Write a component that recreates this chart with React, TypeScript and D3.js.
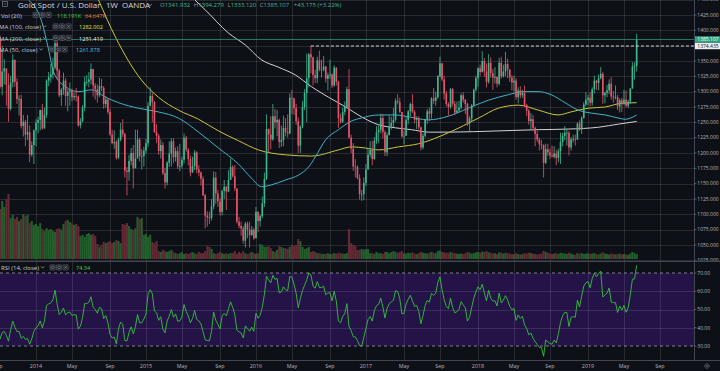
import React, { useEffect, useRef } from 'react';
import * as d3 from 'd3';

// weekly bars (OANDA XAU/USD), first bar = week of 2013-03-31, the first ones sit left of the view
const firstWeek = '2013-03-31';
const firstOpen = 1598;

const closes = [
  // 2013
  1581, 1476, 1405, 1462, 1469, 1437, 1364, 1386, 1392, 1383, 1387, 1297, 1234,
  1223, 1277, 1296, 1323, 1310, 1313, 1377, 1396, 1395, 1386, 1308, 1333, 1338,
  1311, 1272, 1315, 1352, 1316, 1288, 1288, 1244, 1251, 1230, 1234, 1197, 1213,
  // 2014
  1237, 1249, 1254, 1270, 1240, 1262, 1318, 1324, 1328, 1339, 1379, 1334, 1294,
  1303, 1318, 1293, 1300, 1302, 1291, 1293, 1292, 1245, 1252, 1274, 1316, 1316,
  1320, 1337, 1310, 1304, 1294, 1309, 1306, 1280, 1287, 1267, 1230, 1216, 1218,
  1192, 1222, 1238, 1231, 1171, 1169, 1187, 1200, 1175, 1191, 1222, 1195, 1195,
  // 2015
  1204, 1216, 1277, 1293, 1283, 1234, 1228, 1203, 1213, 1167, 1152, 1184, 1199,
  1219, 1193, 1203, 1178, 1179, 1189, 1225, 1205, 1190, 1168, 1179, 1201, 1173,
  1168, 1158, 1131, 1098, 1095, 1094, 1113, 1160, 1134, 1121, 1104, 1138, 1145,
  1137, 1156, 1177, 1162, 1142, 1088, 1081, 1077, 1057, 1085, 1075, 1066, 1075,
  // 2016
  1061, 1104, 1089, 1097, 1118, 1158, 1239, 1230, 1222, 1260, 1250, 1254, 1218,
  1221, 1241, 1234, 1232, 1290, 1289, 1273, 1252, 1212, 1243, 1275, 1298, 1322,
  1361, 1356, 1327, 1322, 1351, 1336, 1336, 1341, 1321, 1327, 1328, 1310, 1339, 1316,
  1257, 1251, 1267, 1275, 1304, 1225, 1207, 1178, 1177, 1159, 1133, 1133, 1151,
  // 2017
  1173, 1197, 1205, 1190, 1220, 1234, 1238, 1257, 1234, 1201, 1229, 1243, 1249,
  1254, 1285, 1283, 1267, 1227, 1228, 1254, 1268, 1280, 1267, 1254, 1256, 1242,
  1209, 1228, 1254, 1268, 1264, 1289, 1285, 1291, 1325, 1346, 1320, 1297, 1280,
  1275, 1304, 1280, 1266, 1269, 1274, 1294, 1287, 1280, 1248, 1256, 1278, 1303,
  // 2018
  1322, 1338, 1332, 1350, 1333, 1316, 1347, 1330, 1323, 1324, 1313, 1347, 1325,
  1333, 1345, 1336, 1323, 1315, 1318, 1291, 1302, 1294, 1298, 1278, 1269, 1252,
  1255, 1241, 1231, 1222, 1214, 1213, 1184, 1206, 1201, 1196, 1194, 1199, 1192,
  1203, 1218, 1228, 1233, 1233, 1209, 1222, 1223, 1222, 1248, 1238, 1257, 1279,
  // 2019
  1287, 1290, 1282, 1304, 1318, 1314, 1322, 1329, 1294, 1298, 1302, 1313, 1292,
  1291, 1291, 1276, 1286, 1280, 1287, 1277, 1284, 1305, 1341, 1341.9, 1385.1,
];

const highs = [
  1605, 1587, 1497, 1476, 1488, 1487, 1446, 1417, 1418, 1424, 1395, 1398, 1300,
  1267, 1297, 1299, 1349, 1347, 1324, 1380, 1401, 1434, 1423, 1392, 1375, 1353,
  1338, 1330, 1326, 1361, 1352, 1322, 1294, 1295, 1262, 1254, 1262, 1245, 1219,
  1238, 1255, 1259, 1271, 1280, 1274, 1320, 1332, 1345, 1355, 1392, 1386, 1337,
  1306, 1331, 1322, 1304, 1315, 1305, 1299, 1306, 1294, 1257, 1278, 1325, 1327,
  1332, 1346, 1337, 1314, 1312, 1323, 1321, 1309, 1293, 1289, 1272, 1238, 1237,
  1221, 1225, 1249, 1255, 1233, 1177, 1197, 1208, 1213, 1238, 1238, 1225, 1206,
  1210, 1223, 1283, 1307, 1298, 1285, 1247, 1231, 1222, 1218, 1176, 1187, 1219,
  1224, 1224, 1209, 1211, 1215, 1194, 1232, 1228, 1208, 1196, 1194, 1205, 1203,
  1180, 1170, 1162, 1133, 1105, 1104, 1125, 1170, 1169, 1140, 1126, 1140, 1156,
  1146, 1172, 1191, 1180, 1180, 1143, 1096, 1088, 1081, 1088, 1088, 1088, 1081,
  1078, 1112, 1105, 1100, 1129, 1168, 1263, 1240, 1260, 1280, 1272, 1270, 1256,
  1245, 1261, 1257, 1263, 1297, 1303, 1290, 1280, 1258, 1245, 1285, 1304, 1362,
  1363, 1375, 1357, 1336, 1357, 1367, 1352, 1358, 1342, 1331, 1352, 1330, 1343, 1340,
  1318, 1264, 1274, 1284, 1308, 1337, 1230, 1216, 1190, 1180, 1165, 1140, 1160,
  1182, 1207, 1219, 1220, 1226, 1244, 1245, 1264, 1263, 1237, 1233, 1261, 1259,
  1273, 1289, 1296, 1290, 1267, 1236, 1260, 1270, 1282, 1296, 1270, 1260, 1260,
  1243, 1232, 1255, 1272, 1274, 1291, 1306, 1300, 1327, 1357, 1347, 1326, 1301,
  1283, 1306, 1306, 1285, 1284, 1285, 1297, 1299, 1288, 1282, 1260, 1280, 1305,
  1326, 1340, 1344, 1366, 1355, 1346, 1361, 1356, 1337, 1340, 1325, 1355, 1357,
  1344, 1365, 1354, 1337, 1327, 1326, 1322, 1307, 1309, 1303, 1310, 1280, 1272,
  1265, 1262, 1243, 1236, 1225, 1221, 1214, 1215, 1215, 1207, 1212, 1211, 1205,
  1207, 1233, 1233, 1244, 1238, 1236, 1226, 1230, 1230, 1250, 1253, 1260, 1283,
  1299, 1295, 1299, 1307, 1326, 1319, 1328, 1340, 1332, 1300, 1311, 1320, 1324,
  1301, 1310, 1295, 1289, 1290, 1303, 1302, 1287, 1306, 1348, 1348, 1394.3,
];

const lows = [
  1539, 1462, 1321, 1395, 1444, 1421, 1359, 1338, 1378, 1374, 1367, 1268, 1180,
  1207, 1208, 1268, 1293, 1270, 1281, 1308, 1356, 1394, 1374, 1305, 1294, 1312,
  1277, 1251, 1269, 1307, 1308, 1280, 1261, 1240, 1227, 1211, 1221, 1185, 1194,
  1182, 1211, 1232, 1237, 1238, 1240, 1257, 1309, 1315, 1321, 1336, 1321, 1291,
  1277, 1295, 1277, 1268, 1277, 1284, 1286, 1284, 1243, 1240, 1250, 1268, 1310,
  1307, 1312, 1292, 1287, 1282, 1291, 1301, 1272, 1274, 1263, 1228, 1214, 1207,
  1189, 1190, 1219, 1226, 1160, 1131, 1155, 1180, 1142, 1175, 1191, 1186, 1173,
  1178, 1199, 1210, 1276, 1250, 1233, 1216, 1197, 1191, 1164, 1142, 1147, 1177,
  1178, 1183, 1186, 1174, 1170, 1175, 1183, 1202, 1180, 1162, 1170, 1172, 1167,
  1162, 1147, 1130, 1077, 1080, 1084, 1090, 1108, 1117, 1112, 1098, 1098, 1125,
  1107, 1136, 1156, 1160, 1138, 1085, 1077, 1065, 1052, 1046, 1061, 1046, 1065,
  1058, 1061, 1071, 1080, 1094, 1112, 1156, 1200, 1206, 1220, 1240, 1227, 1208,
  1210, 1211, 1227, 1225, 1230, 1263, 1262, 1246, 1200, 1200, 1240, 1270, 1250,
  1307, 1330, 1310, 1314, 1314, 1333, 1323, 1333, 1315, 1302, 1321, 1306, 1308, 1310,
  1241, 1248, 1249, 1262, 1272, 1224, 1200, 1171, 1160, 1157, 1124, 1122, 1123,
  1146, 1173, 1193, 1180, 1189, 1215, 1216, 1232, 1224, 1195, 1195, 1229, 1238,
  1242, 1251, 1279, 1265, 1225, 1214, 1228, 1247, 1260, 1265, 1248, 1239, 1238,
  1204, 1206, 1225, 1247, 1252, 1256, 1280, 1277, 1288, 1323, 1317, 1287, 1276,
  1261, 1272, 1276, 1262, 1265, 1265, 1271, 1282, 1263, 1244, 1236, 1252, 1277,
  1300, 1308, 1325, 1331, 1324, 1307, 1313, 1323, 1303, 1313, 1307, 1310, 1321,
  1323, 1325, 1322, 1316, 1302, 1300, 1287, 1281, 1289, 1290, 1275, 1260, 1246,
  1238, 1237, 1211, 1218, 1204, 1206, 1160, 1182, 1195, 1190, 1193, 1191, 1180,
  1185, 1182, 1211, 1221, 1212, 1196, 1204, 1217, 1212, 1221, 1236, 1231, 1256,
  1276, 1278, 1276, 1277, 1297, 1303, 1302, 1320, 1280, 1281, 1291, 1296, 1287,
  1282, 1287, 1270, 1266, 1267, 1278, 1274, 1273, 1280, 1305, 1320, 1333.1,
];

// volume in thousands
const volumes = [
  1500, 1700, 1900, 1400, 1250, 1200, 1350, 1300, 1150, 1200, 1100, 1450, 1600, 1300, 1250, 1100, 1150, 1200, 1050, 1300, 1250, 1280,
  1320, 1200, 1390, 1250, 1440, 1560, 980, 1060, 960, 1010, 910, 960, 1080, 1030, 1060,
  860, 910, 820, 840, 790, 860, 720, 670, 740, 700, 720, 670, 650, 720, 740, 700,
  840, 910, 940, 890, 860, 820, 840, 790, 550, 580, 530, 600, 620, 580, 600, 550,
  360, 290, 340, 410, 380, 410, 430, 380, 410, 460, 430, 380, 840, 820, 860, 790, 720, 700, 740,
  1010, 960, 980, 580, 600, 530, 580, 410, 380, 430, 190, 170, 220, 190, 170, 190, 220, 170,
  140, 120, 140, 170, 120, 140, 120, 140, 170, 140, 120, 170, 140, 140, 190, 310, 290, 240,
  140, 120, 140, 170, 140, 120, 140, 120, 140, 140, 190, 120, 170, 140, 190, 140, 120, 140, 170, 140, 120, 140,
  360, 340, 290, 290, 310, 260, 190, 170, 220, 310, 290, 260, 260, 240, 290, 340, 310, 340, 480, 430,
  290, 240, 260, 290, 170, 190, 170, 140, 140, 120, 120, 120, 140, 120, 120, 140, 130, 150, 140, 130, 120, 140,
  720, 380, 340, 310, 220, 220, 240, 220, 240, 240, 140, 140, 120, 170, 140, 140, 120, 170, 170, 140, 170, 190, 170,
  150, 170, 190, 140, 130, 150, 140, 160, 130, 120,
  140, 170, 150, 140, 130, 150, 170, 150, 140, 190,
  210, 170, 160, 150, 140, 170, 150, 140, 130, 120,
  130, 120, 140, 170, 150, 130, 140, 160, 170, 150,
  180, 170, 190, 160, 150, 130, 140, 120, 160, 150,
  130, 150, 140, 130, 120, 110, 140, 120, 110, 120,
  140, 130, 150, 140, 130, 120, 110, 120, 130, 200,
  170, 150, 130, 120, 130, 140, 120, 150, 140, 130,
  120, 150, 130, 110, 100, 140, 130, 140, 120, 130,
  140, 120, 130, 140, 120, 110, 130, 160, 130, 120,
  110, 130, 120, 110, 120, 130, 110, 120, 110, 100,
  130, 170, 140, 118,
];

// moving averages
const ma50: [string, number][] = [
  ['2013-12-12', 1449], ['2014-01-24', 1414], ['2014-02-16', 1368], ['2014-03-04', 1332], ['2014-04-13', 1308],
  ['2014-05-26', 1300], ['2014-07-08', 1303], ['2014-08-23', 1291], ['2014-10-05', 1282], ['2014-12-10', 1273],
  ['2015-02-14', 1267], ['2015-04-21', 1257], ['2015-06-27', 1234], ['2015-09-01', 1208], ['2015-11-06', 1182],
  ['2015-12-19', 1159], ['2016-01-21', 1145], ['2016-02-23', 1148], ['2016-04-10', 1156], ['2016-05-23', 1164],
  ['2016-06-25', 1177], ['2016-07-18', 1194], ['2016-08-20', 1221], ['2016-10-02', 1238], ['2016-11-14', 1252],
  ['2016-12-17', 1257], ['2017-02-12', 1262], ['2017-04-09', 1262], ['2017-05-22', 1259], ['2017-07-27', 1254],
  ['2017-10-01', 1260], ['2017-12-06', 1273], ['2018-02-10', 1286], ['2018-04-17', 1295], ['2018-06-05', 1300],
  ['2018-07-25', 1300], ['2018-09-06', 1295], ['2018-10-22', 1282], ['2018-12-04', 1270], ['2019-01-17', 1265],
  ['2019-03-04', 1262], ['2019-04-16', 1257], ['2019-05-09', 1255], ['2019-06-16', 1261.9],
];
const ma100: [string, number][] = [
  ['2014-07-31', 1449.5], ['2014-09-25', 1389], ['2014-12-20', 1319], ['2015-02-14', 1291], ['2015-04-21', 1270],
  ['2015-06-27', 1255], ['2015-09-01', 1236], ['2015-11-06', 1220], ['2016-01-11', 1205], ['2016-04-10', 1197],
  ['2016-07-05', 1195], ['2016-10-02', 1205], ['2016-11-14', 1210], ['2016-12-31', 1208], ['2017-02-12', 1205],
  ['2017-04-19', 1210], ['2017-06-24', 1215], ['2017-10-01', 1233], ['2018-01-09', 1257], ['2018-03-15', 1273],
  ['2018-05-21', 1278], ['2018-07-25', 1270], ['2018-09-29', 1262], ['2018-11-11', 1267], ['2019-01-07', 1273],
  ['2019-03-04', 1275], ['2019-04-26', 1281], ['2019-06-16', 1282],
];
const ma200: [string, number][] = [
  ['2015-06-15', 1449.5], ['2015-07-20', 1433], ['2015-10-03', 1396], ['2015-11-29', 1376], ['2016-01-21', 1352],
  ['2016-03-17', 1340], ['2016-05-13', 1327], ['2016-07-05', 1308], ['2016-08-30', 1291], ['2016-10-26', 1275],
  ['2016-12-17', 1259], ['2017-02-12', 1246], ['2017-04-09', 1241], ['2017-06-01', 1238], ['2017-07-27', 1234],
  ['2017-10-01', 1234], ['2018-03-15', 1236], ['2018-07-25', 1238], ['2018-11-01', 1239], ['2019-02-10', 1242],
  ['2019-04-16', 1247], ['2019-06-16', 1251.4],
];

const priceTicks = [1450, 1425, 1400, 1375, 1350, 1325, 1300, 1275, 1250, 1225, 1200, 1175, 1150, 1125, 1100, 1075, 1050, 1025];
const rsiTicks = [70, 60, 50, 40, 30];
const timeTicks: [string, string][] = [
  ['2013-09-01', 'Sep'], ['2014-01-05', '2014'], ['2014-05-04', 'May'], ['2014-09-07', 'Sep'],
  ['2015-01-04', '2015'], ['2015-05-03', 'May'], ['2015-09-06', 'Sep'], ['2016-01-03', '2016'],
  ['2016-05-01', 'May'], ['2016-09-04', 'Sep'], ['2017-01-01', '2017'], ['2017-05-07', 'May'],
  ['2017-09-03', 'Sep'], ['2018-01-07', '2018'], ['2018-05-06', 'May'], ['2018-09-02', 'Sep'],
  ['2019-01-06', '2019'], ['2019-05-05', 'May'], ['2019-09-01', 'Sep'],
];

const lastPrice = 1385.107;
const markedHigh = 1374.435;
const markedHighDate = '2016-07-03';
const ohlc: [string, string][] = [['O', '1341.932'], ['H', '1394.279'], ['L', '1333.120'], ['C', '1385.107']];
const change = '+43.175 (+3.22%)';

const FONT = "'Open Sans', 'DejaVu Sans', sans-serif";
const UP = '#3fb98f';
const DOWN = '#e8546b';

function drawChart(node: SVGSVGElement) {
  const svg = d3.select(node);
  svg.selectAll('*').remove();

  const width = 720, height = 371;
  const axisX = 694;
  const mainBottom = 260.5;
  const rsiTop = 262, rsiBottom = 360.5;

  const parse = (s: string) => new Date(s + 'T00:00:00Z');
  const x = d3.scaleUtc().domain([parse('2014-01-05'), parse('2019-01-06')]).range([36, 588]);
  const y = d3.scaleLinear().domain([1025, 1425]).range([260.3, 15]);
  const yVol = d3.scaleLinear().domain([0, 1560]).range([259, 194]);
  const yRsi = d3.scaleLinear().domain([30, 70]).range([346, 273]);

  const week = 7 * 864e5;
  const t0 = parse(firstWeek).getTime();
  const bars = closes.map((c, i) => {
    const o = i === 0 ? firstOpen : closes[i - 1];
    return {
      x: x(new Date(t0 + i * week)), o, c,
      h: Math.max(highs[i], o, c), l: Math.min(lows[i], o, c),
      v: volumes[i], up: c >= o,
    };
  });

  // RSI 14 with Wilder smoothing
  const rsi: { x: number; v: number }[] = [];
  let avgG = 0, avgL = 0;
  for (let i = 1; i < closes.length; i++) {
    const ch = closes[i] - closes[i - 1];
    const g = Math.max(ch, 0), l = Math.max(-ch, 0);
    if (i <= 14) { avgG += g / 14; avgL += l / 14; }
    else { avgG = (avgG * 13 + g) / 14; avgL = (avgL * 13 + l) / 14; }
    if (i >= 14) rsi.push({ x: bars[i].x, v: avgL === 0 ? 100 : 100 - 100 / (1 + avgG / avgL) });
  }

  const defs = svg.append('defs');
  defs.append('clipPath').attr('id', 'clip-main').append('rect')
    .attr('x', 0).attr('y', 0).attr('width', axisX).attr('height', mainBottom);
  defs.append('clipPath').attr('id', 'clip-rsi').append('rect')
    .attr('x', 0).attr('y', rsiTop).attr('width', axisX).attr('height', rsiBottom - rsiTop);
  defs.append('clipPath').attr('id', 'clip-scale').append('rect')
    .attr('x', axisX).attr('y', 0).attr('width', width - axisX).attr('height', mainBottom);

  svg.append('rect').attr('width', width).attr('height', height).attr('fill', '#0e1017');

  // purple RSI band
  svg.append('rect')
    .attr('x', 0).attr('y', yRsi(70)).attr('width', axisX).attr('height', yRsi(30) - yRsi(70))
    .attr('fill', '#241347');

  // grid
  const grid = svg.append('g').attr('stroke', '#ffffff').attr('stroke-opacity', 0.11).attr('stroke-width', 1);
  timeTicks.forEach(([d]) => {
    const xx = Math.round(x(parse(d))) + 0.5;
    if (xx > 0 && xx < axisX) grid.append('line').attr('x1', xx).attr('x2', xx).attr('y1', 0).attr('y2', rsiBottom);
  });
  priceTicks.forEach(p => {
    const yy = Math.round(y(p)) + 0.5;
    if (yy > 0 && yy < mainBottom) grid.append('line').attr('x1', 0).attr('x2', axisX).attr('y1', yy).attr('y2', yy);
  });
  [60, 50, 40].forEach(v => {
    const yy = Math.round(yRsi(v)) + 0.5;
    grid.append('line').attr('x1', 0).attr('x2', axisX).attr('y1', yy).attr('y2', yy);
  });

  const main = svg.append('g').attr('clip-path', 'url(#clip-main)');

  // volume
  main.append('g').selectAll('rect').data(bars).join('rect')
    .attr('x', d => d.x - 1.06).attr('width', 2.12)
    .attr('y', d => yVol(d.v)).attr('height', d => 259 - yVol(d.v))
    .attr('fill', d => (d.up ? '#235f2d' : '#642a35'));

  // moving averages
  const maLine = d3.line<[string, number]>()
    .x(d => x(parse(d[0]))).y(d => y(d[1])).curve(d3.curveMonotoneX);
  [[ma200, '#d2d2d2'], [ma100, '#c9c83c'], [ma50, '#3fb4c4']].forEach(([pts, col]) => {
    main.append('path').datum(pts as [string, number][])
      .attr('fill', 'none').attr('stroke', col as string).attr('stroke-width', 1).attr('d', maLine);
  });

  // candles
  const candles = main.append('g').selectAll('g').data(bars).join('g');
  candles.append('line')
    .attr('x1', d => d.x).attr('x2', d => d.x)
    .attr('y1', d => y(d.h)).attr('y2', d => y(d.l))
    .attr('stroke', d => (d.up ? UP : DOWN)).attr('stroke-width', 0.8);
  candles.append('rect')
    .attr('x', d => d.x - 0.8).attr('width', 1.6)
    .attr('y', d => y(Math.max(d.o, d.c)))
    .attr('height', d => Math.max(0.8, Math.abs(y(d.o) - y(d.c))))
    .attr('fill', d => (d.up ? UP : DOWN));

  // last price line and the 2016 high marker
  main.append('line')
    .attr('x1', 0).attr('x2', axisX).attr('y1', y(lastPrice)).attr('y2', y(lastPrice))
    .attr('stroke', '#2fa57f').attr('stroke-width', 0.8).attr('stroke-opacity', 0.9);
  main.append('line')
    .attr('x1', x(parse(markedHighDate))).attr('x2', axisX)
    .attr('y1', y(markedHigh)).attr('y2', y(markedHigh))
    .attr('stroke', '#cfd1d6').attr('stroke-width', 1).attr('stroke-dasharray', '3,2');

  // RSI pane
  const rsiG = svg.append('g').attr('clip-path', 'url(#clip-rsi)');
  [70, 30].forEach(v => {
    rsiG.append('line')
      .attr('x1', 0).attr('x2', axisX).attr('y1', yRsi(v)).attr('y2', yRsi(v))
      .attr('stroke', '#9a9ca6').attr('stroke-width', 0.8).attr('stroke-dasharray', '3,3');
  });
  rsiG.append('path').datum(rsi)
    .attr('fill', 'none').attr('stroke', '#36c43a').attr('stroke-width', 0.9)
    .attr('d', d3.line<{ x: number; v: number }>().x(d => d.x).y(d => yRsi(d.v)));

  // frame
  svg.append('rect').attr('x', 0).attr('y', mainBottom).attr('width', width).attr('height', 1.5).attr('fill', '#434651');
  svg.append('line').attr('x1', axisX + 0.5).attr('x2', axisX + 0.5).attr('y1', 0).attr('y2', rsiBottom)
    .attr('stroke', '#434651');
  svg.append('line').attr('x1', 0).attr('x2', width).attr('y1', rsiBottom).attr('y2', rsiBottom)
    .attr('stroke', '#434651');

  // price scale
  const scale = svg.append('g').attr('font-family', FONT).attr('font-size', 5).attr('fill', '#b2b5be');
  const priceScale = scale.append('g').attr('clip-path', 'url(#clip-scale)');
  priceTicks.forEach(p => {
    priceScale.append('line').attr('x1', axisX).attr('x2', axisX + 2.5).attr('y1', y(p)).attr('y2', y(p))
      .attr('stroke', '#7c7f88').attr('stroke-width', 0.6);
    priceScale.append('text').attr('x', axisX + 3.3).attr('y', y(p) + 1.8).text(p.toFixed(3));
  });
  rsiTicks.forEach(v => {
    scale.append('line').attr('x1', axisX).attr('x2', axisX + 2.5).attr('y1', yRsi(v)).attr('y2', yRsi(v))
      .attr('stroke', '#7c7f88').attr('stroke-width', 0.6);
    scale.append('text').attr('x', axisX + 3.3).attr('y', yRsi(v) + 1.8).text(v.toFixed(2));
  });
  const tag = (price: number, bg: string, fg: string) => {
    scale.append('rect').attr('x', axisX + 1).attr('y', y(price) - 3.2).attr('width', width - axisX - 1).attr('height', 6.4)
      .attr('fill', bg);
    scale.append('text').attr('x', axisX + 3.3).attr('y', y(price) + 1.8).attr('fill', fg).text(price.toFixed(3));
  };
  tag(lastPrice, '#2fa57f', '#ffffff');
  tag(markedHigh, '#eceef2', '#131722');

  // time scale
  timeTicks.forEach(([d, label]) => {
    scale.append('text').attr('x', x(parse(d))).attr('y', 368).attr('font-size', 5.4)
      .attr('text-anchor', 'middle').text(label);
  });
  scale.append('circle').attr('cx', 707).attr('cy', 366).attr('r', 2.2)
    .attr('fill', 'none').attr('stroke', '#9598a1').attr('stroke-width', 0.7).attr('stroke-dasharray', '1,0.6');
  scale.append('circle').attr('cx', 707).attr('cy', 366).attr('r', 0.8)
    .attr('fill', 'none').attr('stroke', '#9598a1').attr('stroke-width', 0.5);

  // legends
  const legend = svg.append('g').attr('font-family', FONT);
  const text = (tx: number, ty: number, s: string, color: string, size: number) =>
    legend.append('text').attr('x', tx).attr('y', ty).attr('font-size', size).attr('fill', color).text(s);
  const chevron = (cx: number, yb: number) => {
    legend.append('path').attr('d', `M${cx},${yb - 3.6} l1.6,1.7 l1.6,-1.7`)
      .attr('fill', 'none').attr('stroke', '#b0b3bb').attr('stroke-width', 0.7);
  };
  const icons = (ix: number, yb: number) => {
    for (let k = 0; k < 3; k++) {
      const bx = ix + k * 6.5, by = yb - 5.2;
      legend.append('rect').attr('x', bx).attr('y', by).attr('width', 5.2).attr('height', 5.2).attr('rx', 0.6)
        .attr('fill', '#1d2029').attr('stroke', '#6c707b').attr('stroke-width', 0.5);
      if (k === 0) {
        legend.append('ellipse').attr('cx', bx + 2.6).attr('cy', by + 2.6).attr('rx', 1.6).attr('ry', 1)
          .attr('fill', 'none').attr('stroke', '#a4a7b0').attr('stroke-width', 0.5);
      } else if (k === 1) {
        legend.append('circle').attr('cx', bx + 2.6).attr('cy', by + 2.6).attr('r', 1.3)
          .attr('fill', 'none').attr('stroke', '#a4a7b0').attr('stroke-width', 0.5);
      } else {
        legend.append('path').attr('d', `M${bx + 1.4},${by + 1.4} L${bx + 3.8},${by + 3.8} M${bx + 3.8},${by + 1.4} L${bx + 1.4},${by + 3.8}`)
          .attr('stroke', '#a4a7b0').attr('stroke-width', 0.6);
      }
    }
  };

  // header
  legend.append('rect').attr('x', 2.5).attr('y', 1.5).attr('width', 5).attr('height', 5)
    .attr('fill', 'none').attr('stroke', '#8d919b').attr('stroke-width', 0.6);
  legend.append('line').attr('x1', 3.8).attr('x2', 6.2).attr('y1', 4).attr('y2', 4)
    .attr('stroke', '#8d919b').attr('stroke-width', 0.6);
  text(18, 7.6, 'Gold Spot / U.S. Dollar', '#d6d8de', 8);
  text(106, 7.6, '1W', '#d6d8de', 8);
  text(122, 7.6, 'OANDA', '#d6d8de', 8);
  chevron(148.5, 7.6);
  let ox = 160;
  ohlc.forEach(([k, v]) => {
    const t = legend.append('text').attr('x', ox).attr('y', 7.3).attr('font-size', 6);
    t.append('tspan').attr('fill', '#8f939c').text(k);
    t.append('tspan').attr('fill', '#3fb98f').text(v);
    ox += (t.node() as SVGTextElement).getComputedTextLength() + 3.6;
  });
  text(ox + 1, 7.3, change, '#3fb98f', 6);

  const rows: { yb: number; name: string; chev: boolean; nx: number; ix: number; vals: [string, string, number][] }[] = [
    { yb: 17.5, name: 'Vol (20)', chev: false, nx: 1, ix: 33, vals: [['118.191K', '#3ed13e', 57], ['64.647K', '#e8873a', 85]] },
    { yb: 29, name: 'MA (100, close)', chev: true, nx: -1, ix: 53, vals: [['1282.002', '#e2e24a', 79]] },
    { yb: 40.5, name: 'MA (200, close)', chev: true, nx: -1, ix: 53, vals: [['1251.419', '#e8e8e8', 79]] },
    { yb: 52, name: 'MA (50, close)', chev: true, nx: -1, ix: 49, vals: [['1261.878', '#4cc3d2', 76]] },
    { yb: 270, name: 'RSI (14, close)', chev: true, nx: 1, ix: 50, vals: [['74.34', '#3ed13e', 76]] },
  ];
  rows.forEach(r => {
    const t = text(r.nx, r.yb, r.name, '#c9ccd4', 6);
    const w = (t.node() as SVGTextElement).getComputedTextLength();
    if (r.chev) chevron(r.nx + w + 2, r.yb);
    icons(r.ix, r.yb);
    r.vals.forEach(([s, c, vx]) => text(vx, r.yb, s, c, 5.6));
  });
}

export default function App() {
  const ref = useRef<SVGSVGElement>(null);
  useEffect(() => {
    if (ref.current) drawChart(ref.current);
  }, []);
  return (
    <svg ref={ref} width={720} height={371}
      style={{ position: 'absolute', left: 0, top: 0, display: 'block' }} />
  );
}
